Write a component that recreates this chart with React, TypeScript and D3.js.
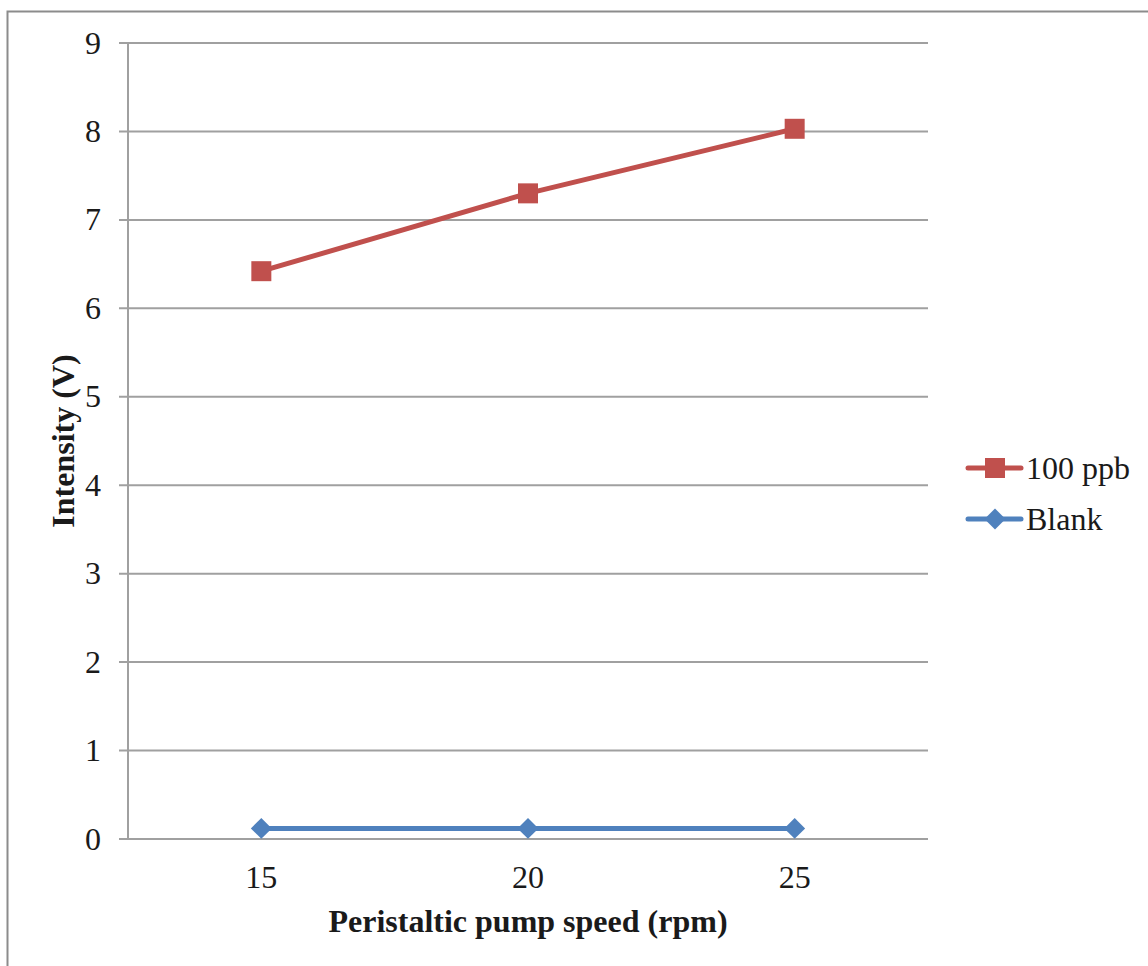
import React, { useEffect, useRef } from "react";
import * as d3 from "d3";

const categories = ["15", "20", "25"];
const ppb100 = [6.42, 7.3, 8.03];
const blank = [0.12, 0.12, 0.12];
const yTicks = [0, 1, 2, 3, 4, 5, 6, 7, 8, 9];
const seriesNames = ["100 ppb", "Blank"];

const W = 1148;
const H = 966;
const M = { left: 128, right: 928, top: 43, bottom: 839 };
const FONT = "'Liberation Serif', 'Times New Roman', serif";

const App = () => {
  const ref = useRef(null);

  useEffect(() => {
    const svg = d3.select(ref.current);
    svg.selectAll("*").remove();

    const x = d3.scaleBand().domain(categories).range([M.left, M.right]);
    const y = d3.scaleLinear().domain([0, 9]).range([M.bottom, M.top]);
    const cx = (c) => x(c) + x.bandwidth() / 2;

    // outer frame
    svg
      .append("rect")
      .attr("x", 7.5)
      .attr("y", 11.5)
      .attr("width", W + 20)
      .attr("height", H + 20)
      .attr("fill", "none")
      .attr("stroke", "#8c8c8c")
      .attr("stroke-width", 2);

    // gridlines + y ticks
    svg
      .selectAll("line.grid")
      .data(yTicks)
      .enter()
      .append("line")
      .attr("class", "grid")
      .attr("x1", M.left - 9)
      .attr("x2", M.right)
      .attr("y1", (d) => y(d))
      .attr("y2", (d) => y(d))
      .attr("stroke", "#a0a0a0")
      .attr("stroke-width", 2);

    svg
      .append("line")
      .attr("x1", M.left)
      .attr("x2", M.left)
      .attr("y1", M.top)
      .attr("y2", M.bottom)
      .attr("stroke", "#a0a0a0")
      .attr("stroke-width", 2);

    svg
      .selectAll("text.ytick")
      .data(yTicks)
      .enter()
      .append("text")
      .attr("class", "ytick")
      .attr("x", 101)
      .attr("y", (d) => y(d))
      .attr("dy", "0.33em")
      .attr("text-anchor", "end")
      .attr("font-family", FONT)
      .attr("font-size", 32)
      .attr("fill", "#1a1a1a")
      .text((d) => d);

    svg
      .selectAll("text.xtick")
      .data(categories)
      .enter()
      .append("text")
      .attr("class", "xtick")
      .attr("x", (d) => cx(d))
      .attr("y", 888)
      .attr("text-anchor", "middle")
      .attr("font-family", FONT)
      .attr("font-size", 32)
      .attr("fill", "#1a1a1a")
      .text((d) => d);

    // axis titles
    svg
      .append("text")
      .attr("x", (M.left + M.right) / 2)
      .attr("y", 932)
      .attr("text-anchor", "middle")
      .attr("font-family", FONT)
      .attr("font-weight", "bold")
      .attr("font-size", 32)
      .attr("fill", "#1a1a1a")
      .text("Peristaltic pump speed (rpm)");

    svg
      .append("text")
      .attr("transform", `translate(74 ${(M.top + M.bottom) / 2}) rotate(-90)`)
      .attr("text-anchor", "middle")
      .attr("font-family", FONT)
      .attr("font-weight", "bold")
      .attr("font-size", 32)
      .attr("fill", "#1a1a1a")
      .text("Intensity (V)");

    const line = d3
      .line()
      .x((d, i) => cx(categories[i]))
      .y((d) => y(d));

    const series = [
      { name: seriesNames[0], values: ppb100, color: "#c0504d", marker: d3.symbolSquare, size: 400 },
      { name: seriesNames[1], values: blank, color: "#4f81bd", marker: d3.symbolDiamond2, size: 280 },
    ];

    series.forEach((s, k) => {
      svg
        .append("path")
        .attr("d", line(s.values))
        .attr("fill", "none")
        .attr("stroke", s.color)
        .attr("stroke-width", 5)
        .attr("stroke-linecap", "round");
      const sym = d3.symbol().type(s.marker).size(s.size);
      svg
        .selectAll(`path.m${k}`)
        .data(s.values)
        .enter()
        .append("path")
        .attr("class", `m${k}`)
        .attr("transform", (d, i) => `translate(${cx(categories[i])} ${y(d)})`)
        .attr("d", sym())
        .attr("fill", s.color);

      // legend
      const ly = 468 + k * 51;
      svg
        .append("line")
        .attr("x1", 968)
        .attr("x2", 1021)
        .attr("y1", ly)
        .attr("y2", ly)
        .attr("stroke", s.color)
        .attr("stroke-width", 5)
        .attr("stroke-linecap", "round");
      svg
        .append("path")
        .attr("transform", `translate(995 ${ly})`)
        .attr("d", sym())
        .attr("fill", s.color);
      svg
        .append("text")
        .attr("x", 1026)
        .attr("y", ly)
        .attr("dy", "0.33em")
        .attr("font-family", FONT)
        .attr("font-size", 32)
        .attr("fill", "#1a1a1a")
        .text(s.name);
    });
  }, []);

  return (
    <svg
      ref={ref}
      width={W}
      height={H}
      style={{ position: "absolute", left: 0, top: 0, background: "#fff" }}
    />
  );
};

export default App;
